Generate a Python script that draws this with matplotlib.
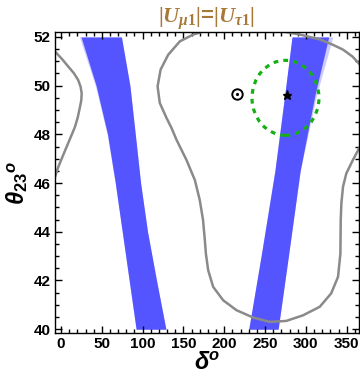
import numpy as np
import matplotlib
matplotlib.use("Agg")
import matplotlib.pyplot as plt
from matplotlib.patches import Ellipse
from matplotlib.ticker import MultipleLocator

plt.rcParams['font.family'] = ['Liberation Sans', 'DejaVu Sans']
plt.rcParams['mathtext.fontset'] = 'custom'
plt.rcParams['mathtext.it'] = 'Liberation Serif:italic:bold'
plt.rcParams['mathtext.rm'] = 'Liberation Serif:bold'
plt.rcParams['mathtext.bf'] = 'Liberation Sans:italic:bold'
plt.rcParams['mathtext.sf'] = 'Liberation Sans:bold'

# left allowed band (theta, left / right delta edges)
band1_th = [52, 50, 48, 46, 44, 42, 40]
band1_lo = [24.5, 43, 57, 66.5, 75, 83.5, 92]
band1_hi = [74, 84.4, 91, 97.5, 106, 117, 128.5]
band1_fringe = [22.5, 42, 56.5, 66.5, 75, 83.5, 92]

# right allowed band
band2_th = [52, 49.6, 46.5, 43.1, 40]
band2_lo = [283, 274, 262, 245.6, 230]
band2_hi = [328, 311, 293, 279, 266]
band2_fringe = [333, 313, 293, 279, 266]

# gray contour, main piece
main_d = [178.3, 162, 145.6, 131.3, 122, 118.3, 121, 129.3, 135.4, 141.6,
          153.8, 164, 170, 174, 176.2, 177.5, 180.3, 186.4, 198.6, 215, 235.3,
          255.8, 276, 296.5, 317, 331, 339.4, 342.3, 342.7, 343.5, 345.5,
          349.6, 357.8, 368, 375, 378, 375, 368, 357, 345.5, 333, 317, 292.5,
          276, 260, 240, 210, 178.3]
main_t = [52.26, 52.1, 51.82, 51.27, 50.66, 49.97, 49.29, 48.67, 48.26, 47.77,
          46.94, 46.12, 45.3, 44.48, 43.66, 43.1, 42.42, 41.74, 41.19, 40.78,
          40.48, 40.3, 40.34, 40.57, 40.92, 41.47, 42.15, 43.1, 44.48, 45.16,
          45.85, 46.4, 46.96, 47.6, 48.4, 49.3, 50.2, 50.8, 51.2, 51.48, 51.68,
          51.9, 52.1, 52.2, 52.25, 52.4, 52.45, 52.26]
# gray contour, left piece
left_d = [-15, -7.3, 1, 9, 16, 21, 24, 25.3, 24.8, 23.3, 20.5, 17, 12, 7,
          2, -3.3, -7.3, -15]
left_t = [51.9, 51.4, 51.1, 50.78, 50.5, 50.23, 49.95, 49.68, 49.4, 49.14,
          48.7, 48.3, 47.9, 47.5, 47.1, 46.67, 46.26, 45.8]

star = (277, 49.6)
odot = (215, 49.66)
ell_center = (275, 49.5)
ell_w, ell_h = 82, 3.08

fig = plt.figure(figsize=(3.6, 3.82), dpi=100)
ax = fig.add_axes([0.153, 0.128, 0.844, 0.788])

blue = '#5555ff'
ax.fill_betweenx(band1_th, band1_fringe, band1_hi, color=blue, alpha=0.3, lw=0)
ax.fill_betweenx(band1_th, band1_lo, band1_hi, color=blue, lw=0)
ax.fill_betweenx(band2_th, band2_lo, band2_fringe, color=blue, alpha=0.3, lw=0)
ax.fill_betweenx(band2_th, band2_lo, band2_hi, color=blue, lw=0)

ax.plot(main_d, main_t, color='#8a8a8a', lw=1.8)
ax.plot(left_d, left_t, color='#8a8a8a', lw=1.8)

ax.add_patch(Ellipse(ell_center, ell_w, ell_h, fill=False, ec='#14b014',
                     lw=2.3, ls=(0, (1.5, 1.6))))
ax.plot(*star, marker='*', color='k', ms=6.5, ls='none')
ax.plot(*odot, marker='o', mfc='white', mec='k', mew=1.4, ms=7.5, ls='none')
ax.plot(*odot, marker='.', color='k', ms=2.5, ls='none')

ax.set_xlim(-7.3, 365)
ax.set_ylim(39.84, 52.2)
ax.xaxis.set_major_locator(MultipleLocator(50))
ax.xaxis.set_minor_locator(MultipleLocator(10))
ax.yaxis.set_major_locator(MultipleLocator(2))
ax.yaxis.set_minor_locator(MultipleLocator(0.5))
ax.tick_params(which='both', direction='in', top=True, right=True, width=1)
ax.tick_params(which='major', length=5, labelsize=11, pad=3)
ax.tick_params(which='minor', length=3)
for lab in ax.get_xticklabels() + ax.get_yticklabels():
    lab.set_fontweight('bold')
for s in ax.spines.values():
    s.set_linewidth(1)

ax.set_xlabel(r'$\mathbf{\delta^o}$', fontsize=17, labelpad=1)
ax.set_ylabel(r'$\mathbf{\theta}_{\mathsf{23}}{}^{\mathbf{o}}$', fontsize=17, labelpad=3)
ax.set_title(r'$|U_{\mu 1}|$=$|U_{\tau 1}|$', color='#a87838', fontsize=16,
             fontweight='bold', pad=4)

fig.savefig('out.png', dpi=100)
